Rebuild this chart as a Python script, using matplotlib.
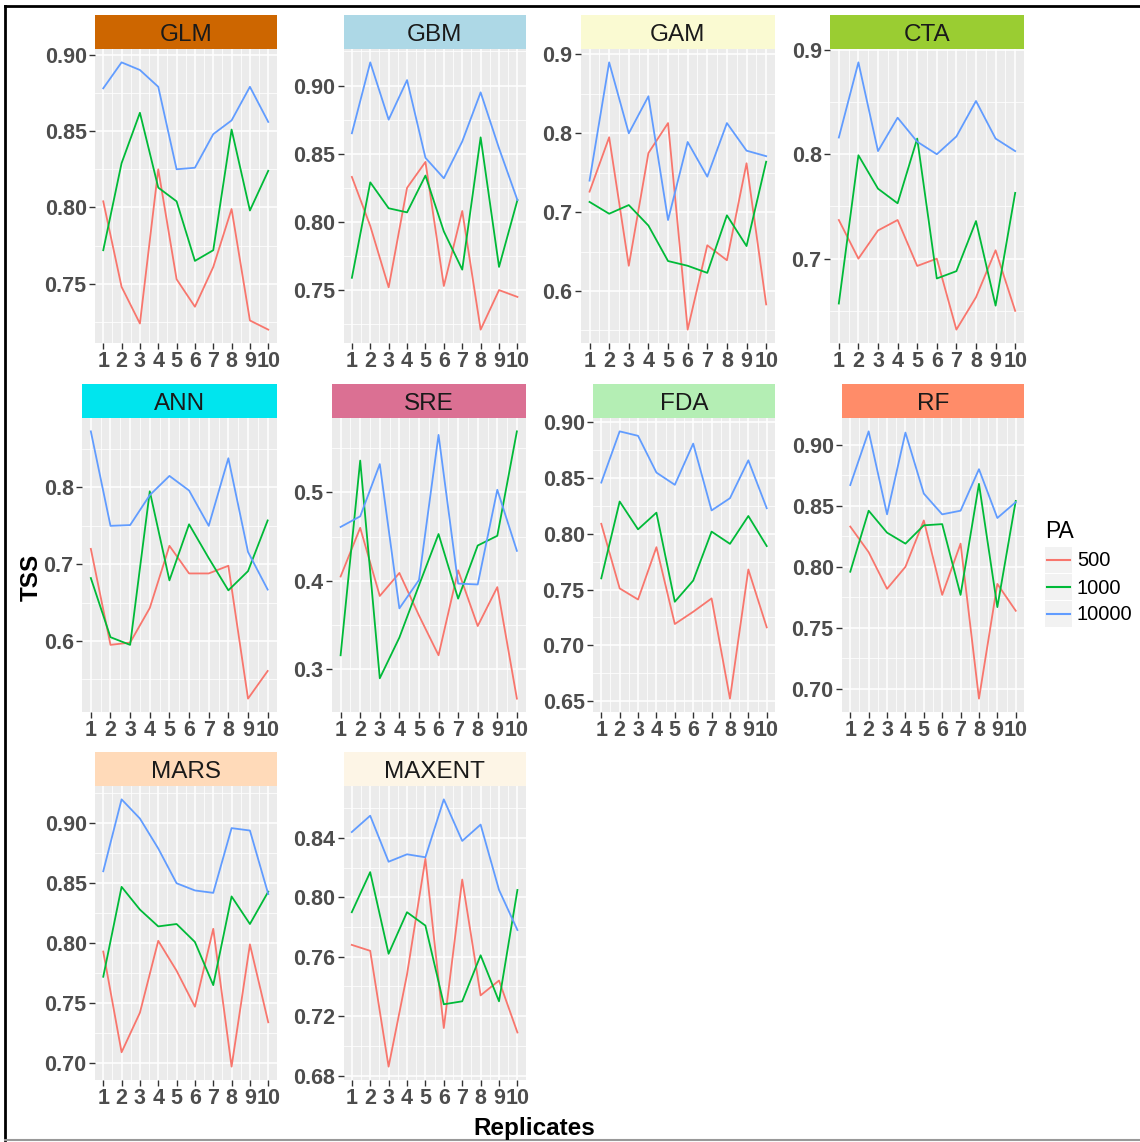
import matplotlib
matplotlib.use("Agg")
import matplotlib.pyplot as plt
from matplotlib.ticker import MultipleLocator, FixedLocator, FormatStrFormatter
from matplotlib.lines import Line2D
from matplotlib.patches import Rectangle

plt.rcParams["font.family"] = ["Liberation Sans", "DejaVu Sans"]
plt.rcParams["font.weight"] = "bold"

# data
replicates = [1, 2, 3, 4, 5, 6, 7, 8, 9, 10]
pa_levels = ["500", "1000", "10000"]
pa_colors = ["#F8766D", "#00BA38", "#619CFF"]

models = ["GLM", "GBM", "GAM", "CTA", "ANN", "SRE", "FDA", "RF", "MARS", "MAXENT"]
strip_colors = ["#CD6600", "#ADD8E6", "#FAFAD2", "#9ACD32", "#00E5EE",
                "#DB7093", "#B4EEB4", "#FF8C69", "#FFDAB9", "#FDF5E6"]
y_steps = [0.05, 0.05, 0.1, 0.1, 0.1, 0.1, 0.05, 0.05, 0.05, 0.04]

glm_500 = [0.804, 0.748, 0.724, 0.825, 0.753, 0.735, 0.761, 0.799, 0.726, 0.720]
glm_1000 = [0.772, 0.829, 0.862, 0.813, 0.804, 0.765, 0.772, 0.851, 0.798, 0.824]
glm_10000 = [0.878, 0.895, 0.890, 0.879, 0.825, 0.826, 0.848, 0.857, 0.879, 0.856]

gbm_500 = [0.833, 0.797, 0.752, 0.825, 0.844, 0.753, 0.808, 0.721, 0.750, 0.745]
gbm_1000 = [0.759, 0.829, 0.810, 0.807, 0.834, 0.793, 0.765, 0.862, 0.767, 0.816]
gbm_10000 = [0.865, 0.917, 0.875, 0.904, 0.847, 0.832, 0.859, 0.895, 0.854, 0.816]

gam_500 = [0.726, 0.795, 0.632, 0.775, 0.813, 0.551, 0.658, 0.639, 0.762, 0.583]
gam_1000 = [0.713, 0.698, 0.709, 0.683, 0.638, 0.632, 0.623, 0.696, 0.657, 0.764]
gam_10000 = [0.740, 0.890, 0.800, 0.847, 0.690, 0.789, 0.745, 0.813, 0.778, 0.771]

cta_500 = [0.737, 0.700, 0.727, 0.737, 0.693, 0.700, 0.632, 0.663, 0.708, 0.650]
cta_1000 = [0.657, 0.799, 0.767, 0.753, 0.815, 0.681, 0.688, 0.736, 0.655, 0.763]
cta_10000 = [0.816, 0.888, 0.803, 0.835, 0.812, 0.800, 0.817, 0.851, 0.815, 0.803]

ann_500 = [0.720, 0.595, 0.598, 0.643, 0.724, 0.688, 0.688, 0.698, 0.525, 0.561]
ann_1000 = [0.682, 0.605, 0.595, 0.795, 0.679, 0.752, 0.708, 0.666, 0.691, 0.757]
ann_10000 = [0.873, 0.750, 0.751, 0.790, 0.815, 0.796, 0.750, 0.838, 0.716, 0.667]

sre_500 = [0.405, 0.460, 0.383, 0.409, 0.361, 0.316, 0.412, 0.349, 0.393, 0.267]
sre_1000 = [0.316, 0.536, 0.290, 0.336, 0.395, 0.453, 0.380, 0.440, 0.451, 0.569]
sre_10000 = [0.461, 0.473, 0.532, 0.369, 0.401, 0.565, 0.397, 0.396, 0.503, 0.434]

fda_500 = [0.809, 0.751, 0.741, 0.788, 0.719, 0.730, 0.742, 0.652, 0.768, 0.716]
fda_1000 = [0.760, 0.829, 0.804, 0.819, 0.739, 0.758, 0.802, 0.791, 0.816, 0.789]
fda_10000 = [0.846, 0.892, 0.888, 0.855, 0.844, 0.881, 0.821, 0.832, 0.866, 0.823]

rf_500 = [0.833, 0.812, 0.782, 0.800, 0.838, 0.777, 0.819, 0.692, 0.786, 0.764]
rf_1000 = [0.796, 0.846, 0.828, 0.819, 0.834, 0.835, 0.777, 0.868, 0.767, 0.854]
rf_10000 = [0.867, 0.911, 0.843, 0.910, 0.860, 0.843, 0.846, 0.880, 0.840, 0.853]

mars_500 = [0.793, 0.709, 0.742, 0.802, 0.777, 0.747, 0.812, 0.697, 0.799, 0.734]
mars_1000 = [0.772, 0.847, 0.828, 0.814, 0.816, 0.801, 0.765, 0.839, 0.816, 0.843]
mars_10000 = [0.860, 0.920, 0.904, 0.879, 0.850, 0.844, 0.842, 0.896, 0.894, 0.841]

maxent_500 = [0.768, 0.764, 0.686, 0.748, 0.826, 0.712, 0.812, 0.734, 0.744, 0.709]
maxent_1000 = [0.790, 0.817, 0.762, 0.790, 0.781, 0.728, 0.730, 0.761, 0.730, 0.805]
maxent_10000 = [0.844, 0.855, 0.824, 0.829, 0.827, 0.866, 0.838, 0.849, 0.805, 0.778]

series = {
    "GLM": [glm_500, glm_1000, glm_10000],
    "GBM": [gbm_500, gbm_1000, gbm_10000],
    "GAM": [gam_500, gam_1000, gam_10000],
    "CTA": [cta_500, cta_1000, cta_10000],
    "ANN": [ann_500, ann_1000, ann_10000],
    "SRE": [sre_500, sre_1000, sre_10000],
    "FDA": [fda_500, fda_1000, fda_10000],
    "RF": [rf_500, rf_1000, rf_10000],
    "MARS": [mars_500, mars_1000, mars_10000],
    "MAXENT": [maxent_500, maxent_1000, maxent_10000],
}

W, H = 1140, 1142

# panel layout in pixels
row_tops = [15, 384, 752]
strip_h = 34
plot_h = 294
col_rights = [276.5, 525.7, 775, 1024]
panel_lefts = [95, 343.6, 580.7, 830, 82, 331.8, 593, 842, 95, 343.5]


def fx(px):
    return px / W


def fy(py):
    return 1 - py / H


fig = plt.figure(figsize=(W / 100, H / 100), dpi=100)

for i, name in enumerate(models):
    r, c = divmod(i, 4)
    left = panel_lefts[i]
    right = col_rights[c]
    top = row_tops[r] + strip_h
    bottom = top + plot_h

    ax = fig.add_axes([fx(left), fy(bottom), (right - left) / W, plot_h / H])
    ax.set_facecolor("#EBEBEB")
    for sp in ax.spines.values():
        sp.set_visible(False)
    for vals, col in zip(series[name], pa_colors):
        ax.plot(replicates, vals, color=col, lw=1.3)
    ax.margins(x=0.05, y=0.05)

    step = y_steps[i]
    ax.set_xticks(replicates)
    ax.xaxis.set_minor_locator(FixedLocator([x + 0.5 for x in replicates[:-1]]))
    ax.yaxis.set_major_locator(MultipleLocator(step))
    ax.yaxis.set_minor_locator(MultipleLocator(step / 2))
    ax.yaxis.set_major_formatter(FormatStrFormatter("%.2f" if step < 0.1 else "%.1f"))
    ax.grid(True, which="major", color="white", lw=1.1)
    ax.grid(True, which="minor", color="white", lw=0.55)
    ax.set_axisbelow(True)
    ax.tick_params(which="major", length=4, width=1, color="#333333",
                   labelsize=15.5, labelcolor="#4D4D4D", pad=2)
    ax.tick_params(which="minor", length=0)

    sax = fig.add_axes([fx(left), fy(top), (right - left) / W, strip_h / H])
    sax.set_facecolor(strip_colors[i])
    sax.set_xticks([])
    sax.set_yticks([])
    for sp in sax.spines.values():
        sp.set_visible(False)
    sax.text(0.5, 0.4, name, ha="center", va="center", fontsize=17.5,
             fontweight="normal", color="#1A1A1A", transform=sax.transAxes)

fig.text(fx(31), fy(577), "TSS", rotation=90, ha="center", va="center",
         fontsize=17.5, fontweight="bold", color="black")
fig.text(fx(534), fy(1129), "Replicates", ha="center", va="center",
         fontsize=17.5, fontweight="bold", color="black")

# legend
fig.text(fx(1045), fy(532), "PA", ha="left", va="center", fontsize=16.5,
         fontweight="normal", color="black")
for k, (lab, col) in enumerate(zip(pa_levels, pa_colors)):
    yc = 560 + 27 * k
    fig.patches.append(Rectangle((fx(1045), fy(yc + 13)), 27 / W, 26 / H,
                                 transform=fig.transFigure, facecolor="#F2F2F2",
                                 edgecolor="none"))
    fig.lines.append(Line2D([fx(1047), fx(1070)], [fy(yc), fy(yc)], color=col,
                            lw=1.5, transform=fig.transFigure))
    fig.text(fx(1077), fy(yc + 1), lab, ha="left", va="center", fontsize=14.5,
             fontweight="normal", color="black")

# frame around the figure
fig.lines.append(Line2D([fx(5), fx(1140)], [fy(6), fy(6)], color="black",
                        lw=2, transform=fig.transFigure))
fig.lines.append(Line2D([fx(5), fx(5)], [fy(6), fy(1140)], color="black",
                        lw=2, transform=fig.transFigure))
fig.lines.append(Line2D([fx(5), fx(1140)], [fy(1140), fy(1140)], color="#999999",
                        lw=1.5, transform=fig.transFigure))

fig.savefig("out.png", dpi=100)
